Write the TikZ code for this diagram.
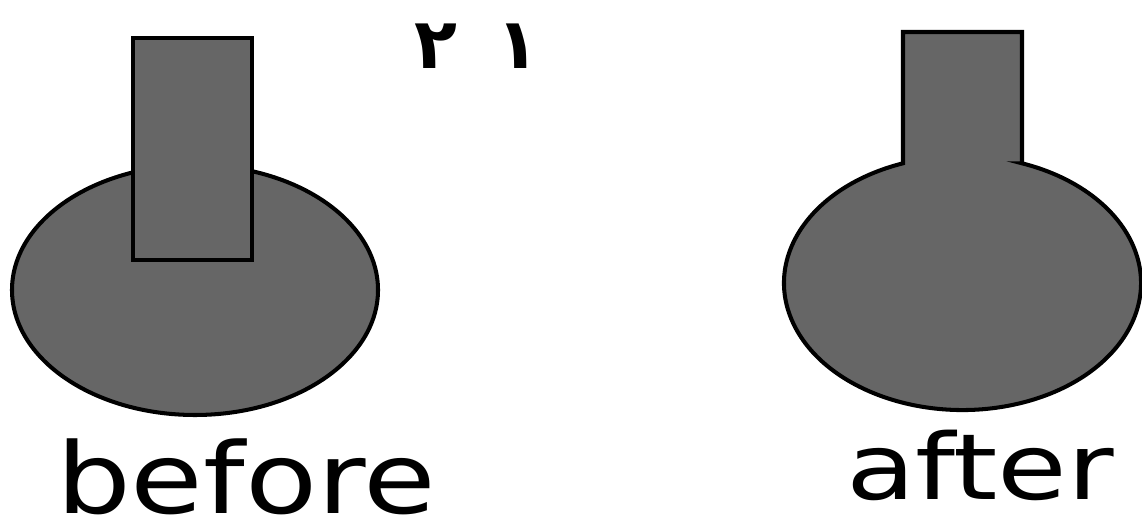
\documentclass[tikz,border=0pt]{standalone}
\usepackage{fontspec}
\TeXXeTstate=1
\newfontfamily\labelfont{DejaVu Sans}
\newfontfamily\arabicfont[Script=Arabic]{DejaVu Sans}
\definecolor{flaskgray}{RGB}{102,102,102}

\begin{document}
\begin{tikzpicture}[
        x=0.02cm, y=-0.02cm,
        part/.style={draw=black, line width=2.3pt, fill=flaskgray},
        caption/.style={anchor=base, inner sep=0pt, text depth=0pt, font=\labelfont\fontsize{56}{60}\selectfont}
    ]
        \useasboundingbox (0,0) rectangle (1142,519);

        % Before: ring with stem on top
        \draw[part] (195,290) ellipse [x radius=183, y radius=125];
        \draw[part] (133,38) rectangle (252,260);

        % After: stem merged into the bulb
        \draw[part, line join=miter]
            (1022,163.3) -- (1022,32) -- (903,32) -- (903,163.3)
            arc[start angle=109.47, end angle=430.53, x radius=178.5, y radius=-127]
            -- cycle;

        % Labels
        \node[inner sep=0pt, font=\arabicfont\bfseries\fontsize{40}{44}\selectfont] (number) at (477,46) {\beginR ١\hspace{0.55em}٢\endR};
        \node[caption, xscale=1.2] (before) at (246,514) {before};
        \node[caption, xscale=1.24, font=\labelfont\fontsize{52}{56}\selectfont] (after) at (980,500) {after};
    \end{tikzpicture}
\end{document}
